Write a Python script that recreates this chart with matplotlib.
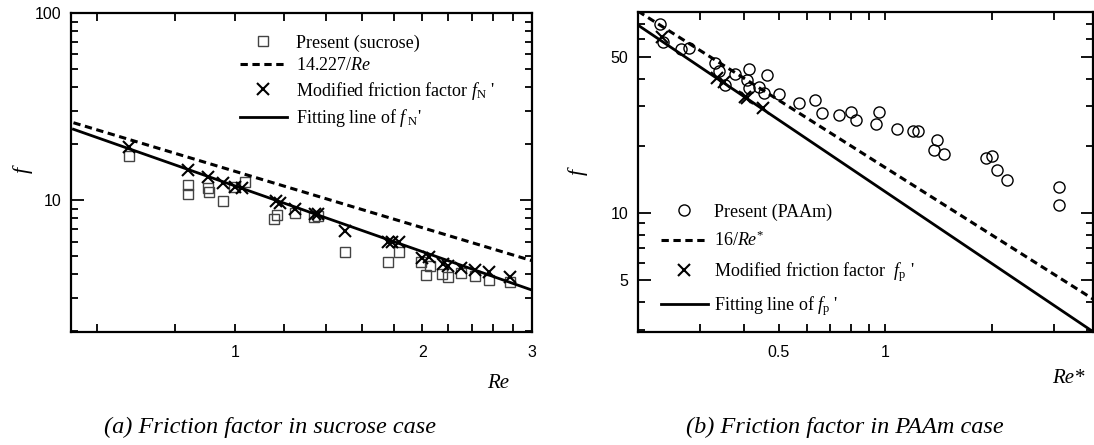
import numpy as np
import matplotlib
matplotlib.use("Agg")
import matplotlib.pyplot as plt
from matplotlib.ticker import NullFormatter, FixedLocator, FixedFormatter

plt.rcParams['font.family'] = ['Liberation Sans', 'DejaVu Sans']
plt.rcParams['mathtext.fontset'] = 'custom'
plt.rcParams['mathtext.rm'] = 'Liberation Serif'
plt.rcParams['mathtext.it'] = 'Liberation Serif:italic'

# (a) sucrose case
sucrose_re = [0.676, 0.841, 0.841, 0.906, 0.909, 0.958, 0.996, 1.038, 1.156, 1.17, 1.249,
              1.34, 1.36, 1.50, 1.762, 1.836, 1.986, 2.06, 2.03, 2.15, 2.20, 2.31, 2.43, 2.56, 2.77]
sucrose_f = [17.1, 12.1, 10.8, 11.6, 11.1, 9.9, 11.7, 12.5, 7.9, 8.3, 8.5,
             8.15, 8.2, 5.28, 4.66, 5.28, 4.67, 4.43, 3.97, 4.0, 3.88, 4.05, 3.93, 3.73, 3.65]
fn_re = [0.676, 0.84, 0.906, 0.958, 1.0, 1.025, 1.164, 1.18, 1.25, 1.345, 1.36, 1.50,
         1.762, 1.79, 1.836, 2.0, 2.05, 2.16, 2.2, 2.31, 2.43, 2.56, 2.77]
fn_f = [19.3, 14.5, 13.3, 12.4, 11.7, 11.55, 9.9, 9.7, 9.0, 8.4, 8.4, 6.85,
        5.98, 5.98, 5.94, 4.87, 4.93, 4.53, 4.43, 4.31, 4.22, 4.1, 3.88]
theory_a_re = [0.55, 3.0]
theory_a_f = [25.9, 4.74]
fit_a_re = [0.55, 3.0]
fit_a_f = [23.9, 3.30]

# (b) PAAm case
paam_re = [0.231, 0.235, 0.264, 0.278, 0.330, 0.339, 0.352, 0.377, 0.413, 0.407, 0.413, 0.463,
           0.439, 0.453, 0.502, 0.569, 0.634, 0.663, 0.742, 0.80, 0.825, 0.962, 0.94, 1.08,
           1.20, 1.24, 1.40, 1.37, 1.465, 1.925, 2.0, 2.07, 2.21, 3.11, 3.11]
paam_f = [70.0, 58.0, 54.0, 55.0, 46.7, 43.3, 37.4, 41.9, 44.1, 39.4, 36.1, 41.5,
          36.5, 34.5, 34.0, 31.2, 32.0, 28.0, 27.5, 28.2, 26.0, 28.4, 25.0, 23.8,
          23.3, 23.3, 21.3, 19.1, 18.35, 17.65, 18.05, 15.65, 14.07, 13.1, 10.9]
fp_re = [0.234, 0.334, 0.351, 0.402, 0.407, 0.452]
fp_f = [61.5, 40.3, 38.6, 33.1, 32.6, 29.4]
theory_b_re = [0.2, 3.87]
theory_b_f = [80.0, 4.13]
fit_b_re = [0.2, 3.87]
fit_b_f = [69.3, 2.95]

serif = 'Liberation Serif'
dash = (0, (2.4, 1.5))

fig = plt.figure(figsize=(10.94, 4.45), dpi=100)
ax1 = fig.add_axes([0.0649, 0.2539, 0.4214, 0.7169])
ax2 = fig.add_axes([0.5832, 0.2539, 0.4159, 0.7190])


def style_axes(ax):
  for s in ax.spines.values():
    s.set_linewidth(1.6)
  ax.tick_params(which='both', direction='in', top=True, right=True, width=1.3, labelsize=11.5)
  ax.tick_params(axis='y', which='major', length=9, pad=7)
  ax.tick_params(axis='y', which='minor', length=5)
  ax.tick_params(axis='x', which='both', length=5.5, pad=9)


# ---- panel (a)
ax1.set_xscale('log')
ax1.set_yscale('log')
sq, = ax1.plot(sucrose_re, sucrose_f, 's', ms=7, mfc='none', mec='#444444', mew=1.0,
               label='Present (sucrose)')
th, = ax1.plot(theory_a_re, theory_a_f, color='black', lw=2.2, ls=dash,
               label=r'14.227/$\mathit{Re}$')
cr, = ax1.plot(fn_re, fn_f, 'x', ms=8, color='black', mew=1.5,
               label=r"Modified friction factor $f_{\mathrm{N}}$ '")
ft, = ax1.plot(fit_a_re, fit_a_f, color='black', lw=2.0,
               label=r"Fitting line of $f_{\ \mathrm{N}}$'")
ax1.set_xlim(0.545, 3.0)
ax1.set_ylim(1.97, 100)
style_axes(ax1)
ax1.xaxis.set_major_locator(FixedLocator([1, 2, 3]))
ax1.xaxis.set_major_formatter(FixedFormatter(['1', '2', '3']))
ax1.xaxis.set_minor_locator(FixedLocator([0.6, 0.8, 1.2, 1.4, 1.6, 1.8, 2.2, 2.4, 2.6, 2.8]))
ax1.xaxis.set_minor_formatter(NullFormatter())
ax1.yaxis.set_major_locator(FixedLocator([10, 100]))
ax1.yaxis.set_major_formatter(FixedFormatter(['10', '100']))
ax1.yaxis.set_minor_locator(FixedLocator([2, 3, 4, 5, 6, 7, 8, 9, 20, 30, 40, 50, 60, 70, 80, 90]))
ax1.yaxis.set_minor_formatter(NullFormatter())
ax1.legend(handles=[sq, th, cr, ft], loc='upper left', bbox_to_anchor=(0.366, 0.933),
           frameon=False, borderpad=0, borderaxespad=0, handlelength=2.6,
           handletextpad=0.5, labelspacing=0.3, numpoints=1,
           prop={'family': serif, 'size': 13})
ax1.text(0.926, -0.16, 'Re', transform=ax1.transAxes, ha='center', va='center',
         family=serif, style='italic', fontsize=15)
ax1.text(-0.105, 0.508, 'f', transform=ax1.transAxes, ha='center', va='center',
         family=serif, style='italic', fontsize=16, rotation=90)

# ---- panel (b)
ax2.set_xscale('log')
ax2.set_yscale('log')
ci, = ax2.plot(paam_re, paam_f, 'o', ms=8, mfc='none', mec='black', mew=1.0,
               label='Present (PAAm)')
th2, = ax2.plot(theory_b_re, theory_b_f, color='black', lw=2.2, ls=dash,
                label=r'16/$\mathit{Re}^{*}$')
cr2, = ax2.plot(fp_re, fp_f, 'x', ms=8, color='black', mew=1.5,
                label=r"Modified friction factor  $f_{\mathrm{p}}$ '")
ft2, = ax2.plot(fit_b_re, fit_b_f, color='black', lw=2.0,
                label=r"Fitting line of $f_{\mathrm{p}}$ '")
ax2.set_xlim(0.2, 3.87)
ax2.set_ylim(2.94, 79.3)
style_axes(ax2)
ax2.xaxis.set_major_locator(FixedLocator([0.5, 1]))
ax2.xaxis.set_major_formatter(FixedFormatter(['0.5', '1']))
ax2.xaxis.set_minor_locator(FixedLocator([0.3, 0.4, 0.6, 0.7, 0.8, 0.9, 2, 3]))
ax2.xaxis.set_minor_formatter(NullFormatter())
ax2.yaxis.set_major_locator(FixedLocator([5, 10, 50]))
ax2.yaxis.set_major_formatter(FixedFormatter(['5', '10', '50']))
ax2.yaxis.set_minor_locator(FixedLocator([3, 4, 6, 7, 8, 9, 20, 30, 40, 60, 70]))
ax2.yaxis.set_minor_formatter(NullFormatter())
ax2.legend(handles=[ci, th2, cr2, ft2], loc='lower left', bbox_to_anchor=(0.05, 0.045),
           frameon=False, borderpad=0, borderaxespad=0, handlelength=2.6,
           handletextpad=0.35, labelspacing=0.55, numpoints=1,
           prop={'family': serif, 'size': 13})
ax2.text(0.945, -0.145, 'Re*', transform=ax2.transAxes, ha='center', va='center',
         family=serif, style='italic', fontsize=15)
ax2.text(-0.132, 0.5, 'f', transform=ax2.transAxes, ha='center', va='center',
         family=serif, style='italic', fontsize=16, rotation=90)

# captions
fig.text(270 / 1094, 1 - 427 / 445, '(a) Friction factor in sucrose case', ha='center',
         va='center', family=serif, style='italic', fontsize=17.5)
fig.text(845 / 1094, 1 - 427 / 445, '(b) Friction factor in PAAm case', ha='center',
         va='center', family=serif, style='italic', fontsize=17.5)

fig.savefig('out.png', dpi=100)
